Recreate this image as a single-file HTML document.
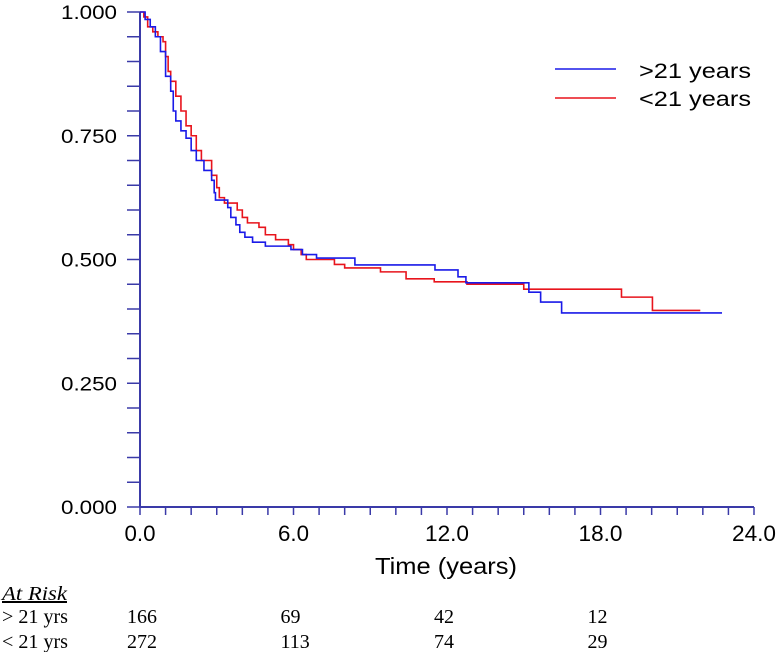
<!DOCTYPE html>
<html><head><meta charset="utf-8"><style>
body{margin:0;background:#fff;width:776px;height:652px;overflow:hidden}
svg{display:block}
.s{font-family:"Liberation Sans",sans-serif}
.r{font-family:"Liberation Serif",serif;font-size:20px}
</style></head><body>
<svg id="c" width="776" height="652"></svg>
<script>
const xTicks=["0.0","6.0","12.0","18.0","24.0"];
const xTickVals=[0,6,12,18,24];
const yTicks=["0.000","0.250","0.500","0.750","1.000"];
const yTickVals=[0,0.25,0.5,0.75,1];
const blueT=[0,0.2,0.4,0.6,0.8,1.0,1.2,1.3,1.4,1.6,1.8,2.0,2.2,2.5,2.8,2.9,2.95,3.43,3.55,3.75,3.9,4.1,4.4,4.9,5.9,6.35,6.9,8.4,11.53,12.43,12.74,15.2,15.66,16.48,22.75];
const blueS=[1.0,0.985,0.97,0.95,0.92,0.87,0.84,0.8,0.78,0.76,0.745,0.72,0.7,0.68,0.66,0.635,0.62,0.605,0.585,0.57,0.555,0.545,0.535,0.527,0.52,0.51,0.503,0.489,0.479,0.465,0.453,0.434,0.414,0.392,0.392];
const redT=[0,0.15,0.3,0.5,0.7,0.9,1.0,1.1,1.2,1.4,1.6,1.8,2.0,2.2,2.4,2.8,3.0,3.1,3.3,3.8,4.0,4.2,4.65,4.9,5.3,5.8,6.0,6.3,6.5,7.6,8.0,9.4,10.4,11.5,12.78,15.0,18.82,20.03,21.9];
const redS=[1.0,0.99,0.97,0.96,0.95,0.94,0.91,0.88,0.86,0.83,0.8,0.77,0.75,0.72,0.7,0.67,0.645,0.625,0.614,0.6,0.585,0.574,0.565,0.55,0.54,0.53,0.52,0.51,0.5,0.49,0.483,0.475,0.461,0.455,0.45,0.44,0.424,0.397,0.397];
const riskTimes=[0,6,12,18];
const riskGt=["166","69","42","12"];
const riskLt=["272","113","74","29"];
const X0=140,X1=754,Y0=507,Y1=12;
const sx=t=>X0+(t/24)*(X1-X0);
const sy=v=>Y0-v*(Y0-Y1);
const svg=document.getElementById('c');const NS="http://www.w3.org/2000/svg";
function mk(tag,attrs,txt){const e=document.createElementNS(NS,tag);for(const k in attrs)e.setAttribute(k,attrs[k]);if(txt!==undefined)e.textContent=txt;svg.appendChild(e);return e;}
const AX="#3a3aa8";
let e=mk('line',{x1:X0,y1:Y0,x2:X0,y2:Y1,stroke:AX,'stroke-width':2});

e=mk('line',{x1:X0,y1:Y0,x2:X1,y2:Y0,stroke:AX,'stroke-width':2});

for(let i=0;i<=20;i++){const y=sy(i*0.05);e=mk('line',{x1:X0-13,y1:y,x2:X0,y2:y,stroke:AX,'stroke-width':1.5});
}
for(let i=0;i<=24;i++){const x=sx(i);e=mk('line',{x1:x,y1:Y0,x2:x,y2:Y0+8,stroke:AX,'stroke-width':1.5});
}
yTicks.forEach((l,i)=>{e=mk('text',{x:117,y:sy(yTickVals[i])+7,'text-anchor':'end','font-size':19,class:'s',textLength:56,lengthAdjust:'spacingAndGlyphs'},l);
});
xTicks.forEach((l,i)=>{const w=l.length>3?44:31;e=mk('text',{x:sx(xTickVals[i]),y:541,'text-anchor':'middle','font-size':22,class:'s',textLength:w,lengthAdjust:'spacingAndGlyphs'},l);
});
e=mk('text',{x:446,y:574,'text-anchor':'middle','font-size':23,class:'s',textLength:142,lengthAdjust:'spacingAndGlyphs'},'Time (years)');

function step(T,S){let d='M'+sx(T[0])+' '+sy(S[0]);for(let i=1;i<T.length;i++){d+=' H'+sx(T[i])+' V'+sy(S[i]);}return d;}
e=mk('path',{d:step(redT,redS),fill:'none',stroke:'#e8141c','stroke-width':1.6});

e=mk('path',{d:step(blueT,blueS),fill:'none',stroke:'#1a1ae8','stroke-width':1.6});

e=mk('line',{x1:555,y1:69,x2:616,y2:69,stroke:'#1a1ae8','stroke-width':1.6});

e=mk('text',{x:639,y:78,'font-size':21,class:'s',textLength:112,lengthAdjust:'spacingAndGlyphs'},'>21 years');

e=mk('line',{x1:555,y1:98,x2:616,y2:98,stroke:'#e8141c','stroke-width':1.6});

e=mk('text',{x:639,y:106,'font-size':21,class:'s',textLength:112,lengthAdjust:'spacingAndGlyphs'},'<21 years');

e=mk('text',{x:2,y:600,class:'r','font-size':21,'font-style':'italic','text-decoration':'underline',textLength:65,lengthAdjust:'spacingAndGlyphs'},'At Risk');

e=mk('text',{x:2,y:623,class:'r',textLength:66,lengthAdjust:'spacingAndGlyphs'},'> 21 yrs');

e=mk('text',{x:2,y:648,class:'r',textLength:66,lengthAdjust:'spacingAndGlyphs'},'< 21 yrs');

riskTimes.forEach((t,i)=>{const x=sx(t)-13;
e=mk('text',{x:x,y:623,class:'r','font-size':19},riskGt[i]);

e=mk('text',{x:x,y:648,class:'r','font-size':19},riskLt[i]);
});
</script>
</body></html>
